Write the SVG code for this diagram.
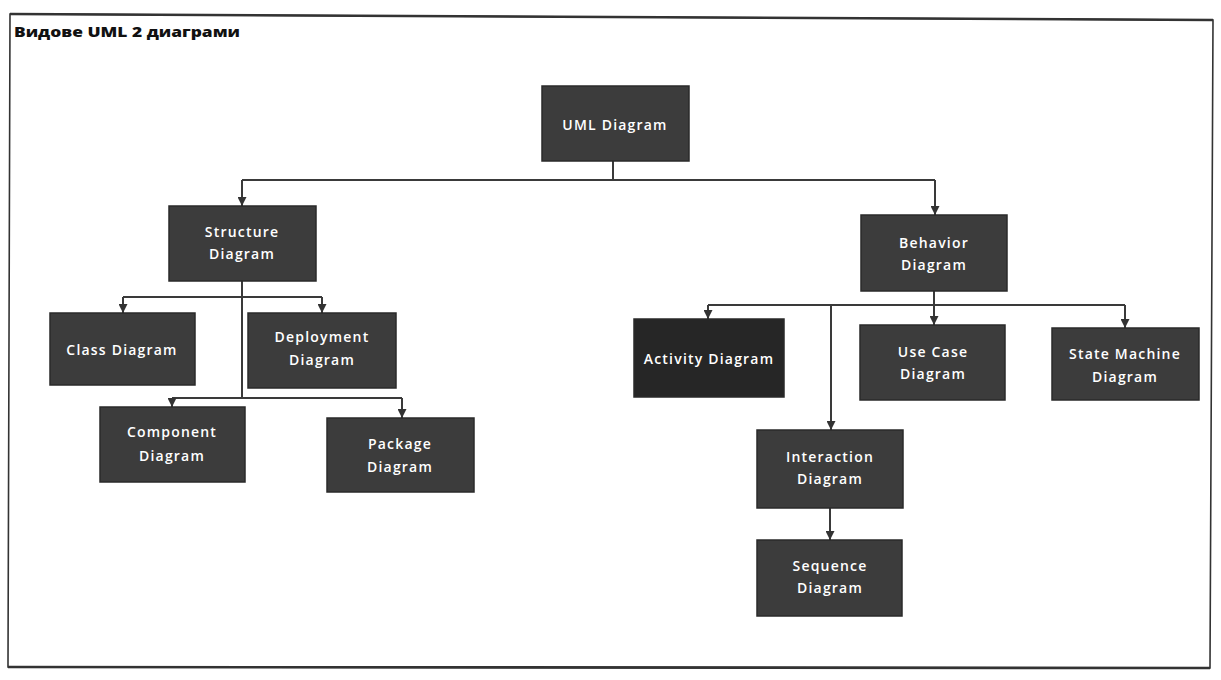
<svg xmlns="http://www.w3.org/2000/svg" width="1221" height="680" viewBox="0 0 1221 680">
<defs>
<marker id="ah" viewBox="0 0 10 10" refX="10" refY="5" markerWidth="9" markerHeight="9" markerUnits="userSpaceOnUse" orient="auto">
<path d="M0,0 L10,5 L0,10 Z" fill="#333"/>
</marker>
</defs>
<style>
.box{fill:#3c3c3c;stroke:#2a2a2a;stroke-width:1.5}
.dark{fill:#262626}
.lbl{font-family:"Open Sans","Liberation Sans",sans-serif;font-size:14px;font-weight:600;fill:#fff;text-anchor:middle;letter-spacing:1.2px}
.ln{fill:none;stroke:#3a3a3a;stroke-width:2}
.arr{fill:none;stroke:#3a3a3a;stroke-width:2;marker-end:url(#ah)}
.title{font-family:"Open Sans","Liberation Sans",sans-serif;font-size:14px;font-weight:800;fill:#111}
</style>
<rect width="1221" height="680" fill="#fff"/>
<g id="frame">
<path d="M10,14 L1213,20 L1210,668 L8,667 Z" fill="none" stroke="#333" stroke-width="1.6"/>
<path d="M10,14 L1213,20 M8,667 L1210,668" fill="none" stroke="#333" stroke-width="2.6"/>
<text class="title" x="14" y="37" textLength="226" lengthAdjust="spacingAndGlyphs">Видове UML 2 диаграми</text>
</g>
<g id="connectors">
<path class="ln" d="M613,161 V180 M242,180 H935"/>
<path class="arr" d="M242,180 V206"/>
<path class="arr" d="M935,180 V215"/>
<path class="ln" d="M242,281 V398 M123,297 H322 M172,398 H402"/>
<path class="arr" d="M123,297 V313"/>
<path class="arr" d="M322,297 V313"/>
<path class="arr" d="M172,398 V407"/>
<path class="arr" d="M402,398 V418"/>
<path class="ln" d="M934,291 V305 M708,305 H1125"/>
<path class="arr" d="M708,305 V319"/>
<path class="arr" d="M934,305 V325"/>
<path class="arr" d="M1125,305 V328"/>
<path class="arr" d="M831,305 V430"/>
<path class="arr" d="M830,508 V540"/>
</g>
<g id="uml"><rect class="box" x="542" y="86" width="147" height="75"/><text class="lbl" x="615" y="130">UML Diagram</text></g>
<g id="structure"><rect class="box" x="169" y="206" width="147" height="75"/><text class="lbl" x="242" y="237">Structure</text><text class="lbl" x="242" y="259">Diagram</text></g>
<g id="class"><rect class="box" x="50" y="313" width="145" height="72"/><text class="lbl" x="122" y="355">Class Diagram</text></g>
<g id="deployment"><rect class="box" x="248" y="313" width="148" height="75"/><text class="lbl" x="322" y="342">Deployment</text><text class="lbl" x="322" y="365">Diagram</text></g>
<g id="component"><rect class="box" x="100" y="407" width="145" height="75"/><text class="lbl" x="172" y="437">Component</text><text class="lbl" x="172" y="461">Diagram</text></g>
<g id="package"><rect class="box" x="327" y="418" width="147" height="74"/><text class="lbl" x="400" y="449">Package</text><text class="lbl" x="400" y="472">Diagram</text></g>
<g id="behavior"><rect class="box" x="861" y="215" width="146" height="76"/><text class="lbl" x="934" y="248">Behavior</text><text class="lbl" x="934" y="270">Diagram</text></g>
<g id="activity"><rect class="box dark" x="634" y="319" width="150" height="78"/><text class="lbl" x="709" y="364">Activity Diagram</text></g>
<g id="usecase"><rect class="box" x="860" y="325" width="145" height="75"/><text class="lbl" x="933" y="357">Use Case</text><text class="lbl" x="933" y="379">Diagram</text></g>
<g id="statemachine"><rect class="box" x="1052" y="328" width="147" height="72"/><text class="lbl" x="1125" y="359">State Machine</text><text class="lbl" x="1125" y="382">Diagram</text></g>
<g id="interaction"><rect class="box" x="757" y="430" width="146" height="78"/><text class="lbl" x="830" y="462">Interaction</text><text class="lbl" x="830" y="484">Diagram</text></g>
<g id="sequence"><rect class="box" x="757" y="540" width="145" height="76"/><text class="lbl" x="830" y="571">Sequence</text><text class="lbl" x="830" y="593">Diagram</text></g>
</svg>
